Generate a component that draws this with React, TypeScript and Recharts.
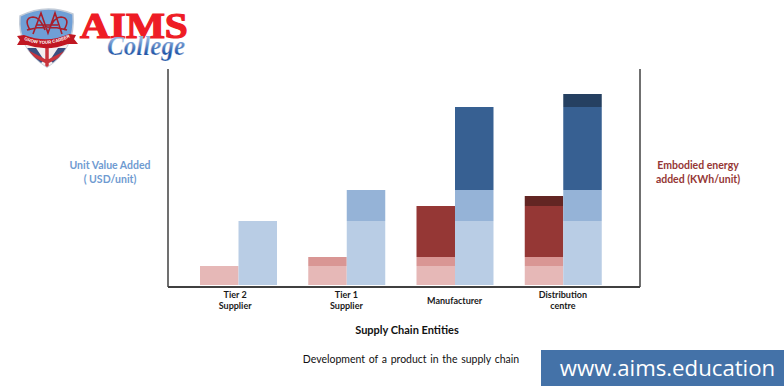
import React from "react";
import { BarChart, Bar, XAxis, YAxis } from "recharts";

const categories = ["Tier 2\nSupplier", "Tier 1\nSupplier", "Manufacturer", "Distribution\ncentre"];
const energyTier2 = [19, 19, 19, 19];
const energyTier1 = [0, 9, 9, 9];
const energyManufacturer = [0, 0, 51, 51];
const energyDistribution = [0, 0, 0, 10];
const valueTier2 = [64, 64, 64, 64];
const valueTier1 = [0, 31, 31, 31];
const valueManufacturer = [0, 0, 83, 83];
const valueDistribution = [0, 0, 0, 13];

const data = categories.map((name, i) => ({
  name,
  energyTier2: energyTier2[i],
  energyTier1: energyTier1[i],
  energyManufacturer: energyManufacturer[i],
  energyDistribution: energyDistribution[i],
  valueTier2: valueTier2[i],
  valueTier1: valueTier1[i],
  valueManufacturer: valueManufacturer[i],
  valueDistribution: valueDistribution[i],
}));

const FONT = "Lato, 'Open Sans', sans-serif";

const CategoryTick = (props: any) => {
  const lines = String(props.payload.value).split("\n");
  const baseY = lines.length === 1 ? 304 : 298;
  const x = props.x + (props.index === 0 ? -3 : 0);
  return (
    <text x={x} textAnchor="middle" fontFamily={FONT} fontWeight={700} fontSize={9} fill="#1a1a1a">
      {lines.map((l: string, i: number) => (
        <tspan key={i} x={x} y={baseY + i * 11}>{l}</tspan>
      ))}
    </text>
  );
};

const SHIELD = "M20 16 Q46 3 73 14 Q76 48 47 67 Q17 48 20 16 Z";

const Logo = () => (
  <svg width={220} height={70} style={{ position: "absolute", left: 0, top: 0 }}>
    <defs>
      <clipPath id="shieldClip"><path d={SHIELD} /></clipPath>
      <path id="bannerArc" d="M22 39 Q47 50 72 36" fill="none" />
      <linearGradient id="collegeGrad" x1="0" y1="0" x2="0" y2="1">
        <stop offset="0.25" stopColor="#8fb0de" />
        <stop offset="0.75" stopColor="#2257a8" />
      </linearGradient>
    </defs>
    <path d={SHIELD} fill="#6f9fd6" stroke="#c3ccd8" strokeWidth={1.5} />
    <g clipPath="url(#shieldClip)">
      <rect x={15} y={44} width={65} height={26} fill="#f3eeee" />
      <path d="M22 48 L36 48 L44 60 L38 66 Z M72 48 L58 48 L50 60 L56 66 Z" fill="#3a4f80" />
      <path d="M47 44 V70 M24 50 L47 62 L70 50" stroke="#c8343c" strokeWidth={3.5} fill="none" />
    </g>
    <path d="M30 30 Q23 18 33 17 Q40 17 45 30 M64 30 Q71 18 61 17 Q54 17 49 30 M33 34 L41 13 L48 33 L55 13 L62 34 M36 25 L58 25 M27 30 Q47 24 67 30" fill="none" stroke="#a81e2b" strokeWidth={1.6} />
    <path d="M24 35 L17 36 L20 40 L17 45 L27 45 Q47 52 68 44 L78 44 L74 39 L76 35 L69 34 Q47 44 24 35 Z" fill="#c01722" />
    <text fontSize={4.4} fontWeight={700} fontFamily="'Liberation Sans', sans-serif" fill="#fff">
      <textPath href="#bannerArc" startOffset="50%" textAnchor="middle">GROW YOUR CAREER</textPath>
    </text>
    <g transform="translate(80 38) scale(1.18 1)">
      <text x={0} y={0} fontFamily="'Liberation Serif', serif" fontWeight={700} fontSize={35} fill="#ee1c25" stroke="#ee1c25" strokeWidth={1.2}>AIMS</text>
    </g>
    <g transform="translate(107 55) scale(0.93 1)">
      <text x={0} y={0} fontFamily="'Liberation Serif', serif" fontStyle="italic" fontWeight={700} fontSize={27} fill="url(#collegeGrad)" stroke="#ffffff" strokeWidth={0.25}>College</text>
    </g>
  </svg>
);

const label = (text: string[], left: number, top: number, color: string) => (
  <div style={{ position: "absolute", left, top, width: 100, textAlign: "center", fontFamily: FONT, fontWeight: 700, fontSize: 10.5, lineHeight: "14px", color }}>
    {text.map((t) => <div key={t}>{t}</div>)}
  </div>
);

export default function App() {
  return (
    <div style={{ position: "absolute", left: 0, top: 0, width: 784, height: 386, background: "#fff", overflow: "hidden" }}>
      <BarChart
        width={784}
        height={386}
        data={data}
        margin={{ top: 69, right: 143, bottom: 69, left: 167 }}
        barSize={38.5}
        barGap={0}
      >
        <XAxis
          dataKey="name"
          interval={0}
          height={30}
          padding={{ left: 16, right: 23 }}
          tickLine={false}
          tick={CategoryTick}
          axisLine={{ stroke: "#404040", strokeWidth: 2 }}
        />
        <YAxis
          width={1}
          domain={[-2, 216]}
          allowDataOverflow
          tick={false}
          tickLine={false}
          axisLine={{ stroke: "#404040", strokeWidth: 1.5 }}
        />
        <YAxis
          yAxisId="right"
          orientation="right"
          width={1}
          domain={[-2, 216]}
          allowDataOverflow
          tick={false}
          tickLine={false}
          axisLine={{ stroke: "#404040", strokeWidth: 1.5 }}
        />
        <Bar dataKey="energyTier2" stackId="energy" fill="#e6b8b7" isAnimationActive={false} />
        <Bar dataKey="energyTier1" stackId="energy" fill="#d99694" isAnimationActive={false} />
        <Bar dataKey="energyManufacturer" stackId="energy" fill="#953735" isAnimationActive={false} />
        <Bar dataKey="energyDistribution" stackId="energy" fill="#632523" isAnimationActive={false} />
        <Bar dataKey="valueTier2" stackId="value" fill="#b9cde5" isAnimationActive={false} />
        <Bar dataKey="valueTier1" stackId="value" fill="#95b3d7" isAnimationActive={false} />
        <Bar dataKey="valueManufacturer" stackId="value" fill="#376092" isAnimationActive={false} />
        <Bar dataKey="valueDistribution" stackId="value" fill="#254061" isAnimationActive={false} />
      </BarChart>
      <Logo />
      {label(["Unit Value Added", "( USD/unit)"], 60, 158, "#6f9bd1")}
      {label(["Embodied energy", "added (KWh/unit)"], 648, 158, "#953735")}
      <div style={{ position: "absolute", left: 307, top: 323, width: 200, textAlign: "center", fontFamily: FONT, fontWeight: 700, fontSize: 11, color: "#111" }}>Supply Chain Entities</div>
      <div style={{ position: "absolute", left: 261, top: 353, width: 300, textAlign: "center", fontFamily: FONT, fontSize: 10.5, color: "#111", wordSpacing: 1 }}>Development of a product in the supply chain</div>
      <div style={{ position: "absolute", left: 541, top: 350, width: 243, height: 36, background: "#4472a8", color: "#fff", fontFamily: "'Open Sans', sans-serif", fontSize: 22.2, lineHeight: "35px", textAlign: "center", paddingLeft: 10, boxSizing: "border-box" }}>www.aims.education</div>
    </div>
  );
}
